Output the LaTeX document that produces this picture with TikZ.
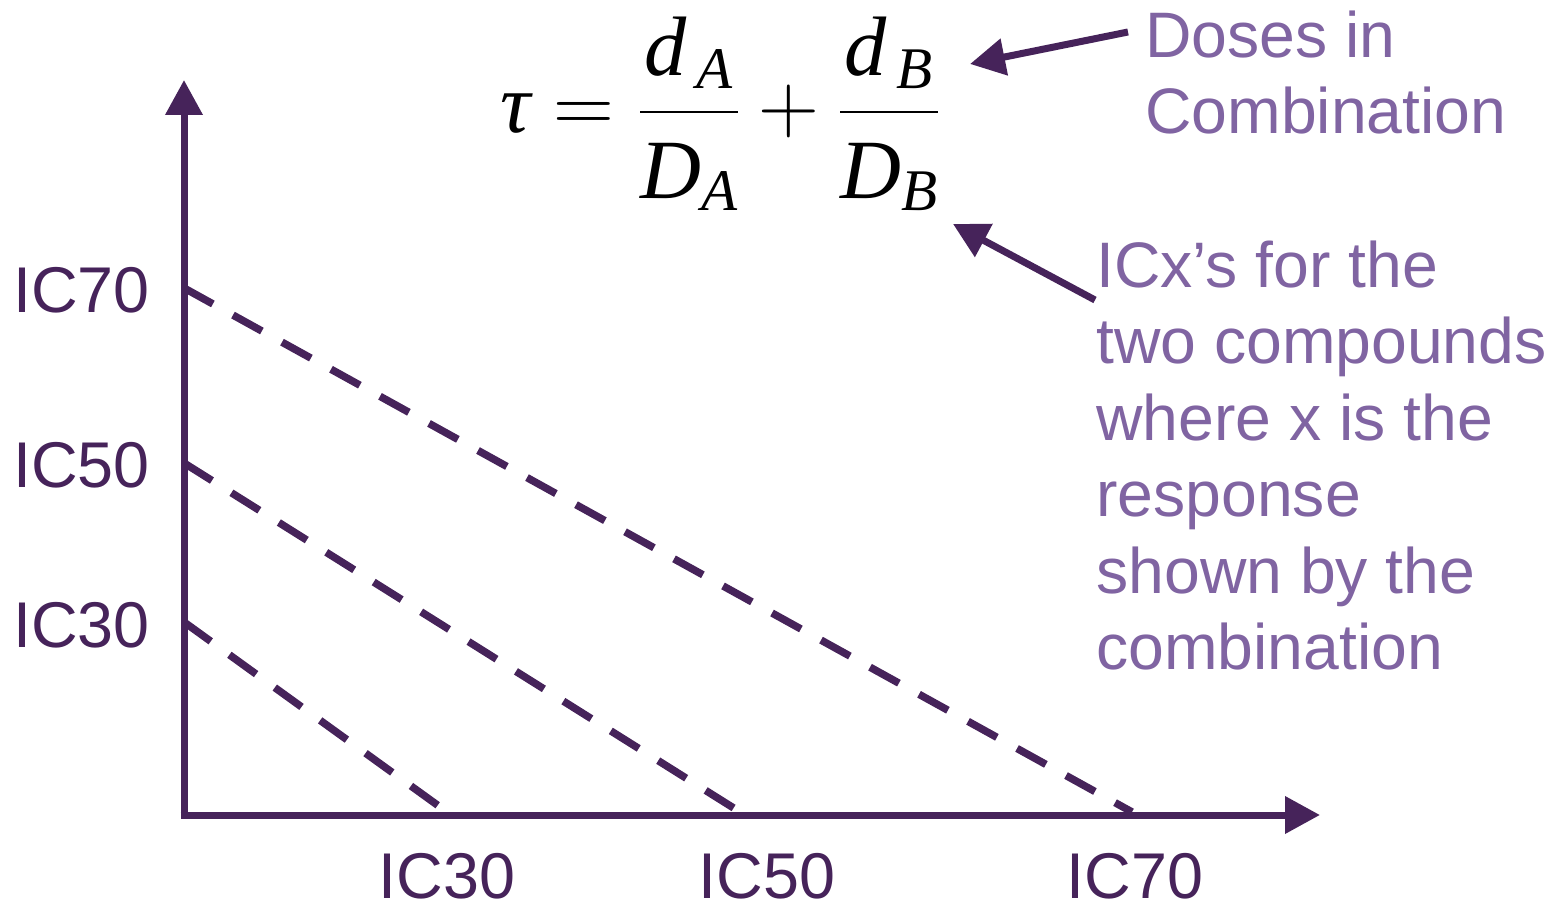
\documentclass[tikz,border=0pt]{standalone}
\usepackage{fix-cm}
\usepackage{amsmath}
\usepackage{fontspec}
\setmainfont{Liberation Sans}
\newfontfamily\serifit{Liberation Serif}
\newcommand\tv[1]{\text{\serifit\itshape #1}}
\usetikzlibrary{arrows.meta}
\definecolor{plum}{HTML}{46235A}
\definecolor{lilac}{HTML}{8064A2}

\begin{document}
\begin{tikzpicture}[
  x=0.02cm,
  y=-0.02cm,
  axis/.style={draw=plum,line width=0.14cm,-{Triangle[length=0.7cm,width=0.72cm]}},
  isobole/.style={draw=plum,line width=0.15cm,dash pattern=on 0.66cm off 0.46cm},
  pointer/.style={draw=plum,line width=0.14cm,-{Triangle[length=0.7cm,width=0.72cm]}},
  ticklabel/.style={font=\fontsize{36.8}{43.5}\selectfont,text=plum,inner sep=0pt},
  note/.style={font=\fontsize{36.6}{43.5}\selectfont,text=lilac,inner sep=0pt,align=left}
]
\useasboundingbox (0,0) rectangle (1557,908);

\coordinate (origin) at (184,815);
\coordinate (ytop) at (184,80);
\coordinate (xend) at (1320,815);
\draw[axis] ([yshift=-0.07cm]origin) -- (ytop);
\draw[axis] ([xshift=-0.07cm]origin) -- (xend);

\node[ticklabel,anchor=east] (yseventy) at (150,290) {IC70};
\node[ticklabel,anchor=east] (yfifty) at (150,465) {IC50};
\node[ticklabel,anchor=east] (ythirty) at (150,625) {IC30};
\node[ticklabel] (xthirty) at (447,876) {IC30};
\node[ticklabel] (xfifty) at (767,876) {IC50};
\node[ticklabel] (xseventy) at (1135,876) {IC70};

\coordinate (a70) at (184,288);
\coordinate (a50) at (184,463);
\coordinate (a30) at (184,622);
\coordinate (b70) at (1132,812);
\coordinate (b50) at (740,812);
\coordinate (b30) at (447,812);
\draw[isobole] (a70) -- (b70);
\draw[isobole] (a50) -- (b50);
\draw[isobole] (a30) -- (b30);

\node[inner sep=0pt,anchor=base west,font=\fontsize{48}{56}\selectfont] (tau) at (500,133)
  {$\displaystyle \tv{τ}=\frac{\tv{d}_{\,\tv{A}}}{\rule{0pt}{0.95em}\tv{D}_{\tv{A}}}
   +\frac{\tv{d}_{\,\tv{B}}}{\rule{0pt}{0.95em}\tv{D}_{\tv{B}}}$};

\node[note,anchor=base west] (doses) at (1145,133.5) {Doses in\\Combination};
\node[note,anchor=base west] (icx) at (1096,669.5)
  {ICx’s for the\\two compounds\\where x is the\\response\\shown by the\\combination};

\coordinate (dosetip) at (970,64);
\coordinate (icxtip) at (953,224);
\draw[pointer] ([shift={(-17,-101.5)}]doses.base west) -- (dosetip);
\draw[pointer] ([shift={(-1,-369.5)}]icx.base west) -- (icxtip);
\end{tikzpicture}
\end{document}
